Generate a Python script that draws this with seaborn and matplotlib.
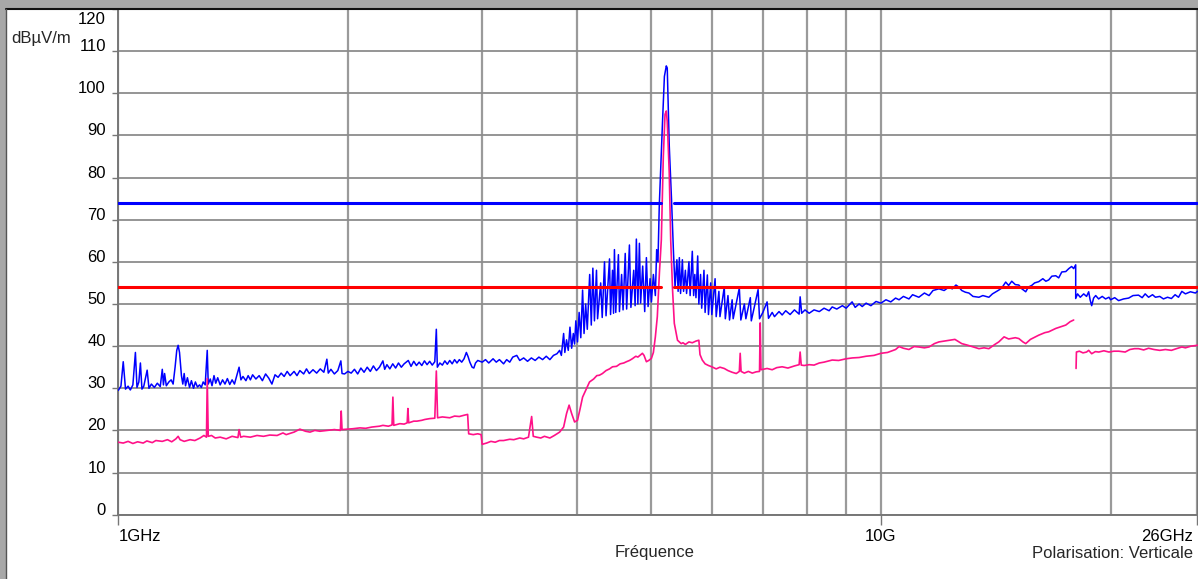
import numpy as np
import matplotlib.pyplot as plt
import seaborn as sns
from matplotlib.lines import Line2D
from matplotlib.patches import Rectangle
from matplotlib.ticker import FixedLocator
import matplotlib.transforms as mtransforms

# ------------------------------------------------------------------ #
#  Data (GHz, dBµV/m)
# ------------------------------------------------------------------ #
# peak detector trace (blue)
peak_1_2 = [
    (1.000, 29.5), (1.008, 30.5), (1.015, 36.3), (1.022, 29.8), (1.030, 30.5),
    (1.037, 29.6), (1.045, 30.8), (1.053, 38.5), (1.058, 30.2), (1.064, 31.5),
    (1.069, 36.0), (1.074, 29.8), (1.080, 30.5), (1.091, 34.3), (1.097, 30.0),
    (1.105, 31.0), (1.115, 30.2), (1.125, 31.2), (1.135, 30.4), (1.142, 34.5),
    (1.146, 30.8), (1.150, 33.5), (1.156, 30.6), (1.165, 31.5), (1.173, 32.0),
    (1.180, 31.0), (1.187, 35.0), (1.193, 39.0), (1.198, 40.2), (1.203, 38.5),
    (1.210, 33.0), (1.215, 31.0), (1.220, 33.5), (1.225, 30.6), (1.232, 32.5),
    (1.240, 30.2), (1.247, 31.8), (1.255, 30.0), (1.262, 31.5), (1.270, 30.3),
    (1.278, 30.8), (1.285, 30.2), (1.292, 31.5), (1.300, 30.8), (1.308, 39.0),
    (1.312, 31.0), (1.320, 32.2), (1.327, 30.6), (1.335, 33.0), (1.342, 31.2),
    (1.350, 32.5), (1.360, 30.8), (1.370, 32.0), (1.380, 31.0), (1.390, 32.3),
    (1.400, 30.9), (1.410, 32.0), (1.420, 31.0), (1.430, 33.0), (1.440, 35.0),
    (1.448, 32.0), (1.457, 32.8), (1.470, 31.8), (1.480, 33.0), (1.490, 32.0),
    (1.500, 33.2), (1.515, 32.2), (1.530, 33.0), (1.545, 31.8), (1.560, 33.4),
    (1.575, 32.4), (1.590, 31.0), (1.605, 33.2), (1.620, 32.6), (1.635, 33.6),
    (1.650, 32.8), (1.665, 34.0), (1.680, 33.0), (1.700, 34.0), (1.715, 33.0),
    (1.730, 34.2), (1.750, 33.4), (1.765, 34.6), (1.780, 33.5), (1.800, 34.4),
    (1.820, 33.6), (1.840, 34.6), (1.860, 33.8), (1.877, 36.9), (1.885, 33.6),
    (1.900, 34.5), (1.920, 33.4), (1.940, 34.2), (1.958, 36.5), (1.965, 33.5),
    (1.980, 33.4),
]
peak_2_4 = [
    (2.00, 34.0), (2.02, 33.6), (2.04, 34.5), (2.06, 33.4), (2.08, 34.8),
    (2.10, 33.8), (2.12, 35.0), (2.14, 34.0), (2.16, 35.3), (2.18, 34.2),
    (2.20, 35.0), (2.223, 36.5), (2.235, 34.5), (2.25, 35.6), (2.27, 34.6),
    (2.29, 35.8), (2.31, 34.8), (2.33, 36.0), (2.35, 35.0), (2.37, 35.8),
    (2.40, 36.6), (2.42, 35.2), (2.44, 36.4), (2.46, 35.4), (2.48, 36.2),
    (2.50, 35.4), (2.52, 36.5), (2.54, 35.6), (2.56, 36.4), (2.58, 35.5),
    (2.60, 36.3), (2.612, 44.0), (2.62, 35.0), (2.64, 36.0), (2.66, 35.5),
    (2.68, 36.5), (2.70, 35.7), (2.72, 36.6), (2.74, 35.8), (2.76, 36.8),
    (2.78, 36.0), (2.80, 36.8), (2.82, 36.2), (2.84, 37.0), (2.86, 38.5),
    (2.875, 37.5), (2.89, 36.2), (2.91, 35.0), (2.925, 34.8), (2.94, 36.0),
    (2.96, 36.6), (3.00, 36.2), (3.03, 36.8), (3.06, 36.0), (3.10, 37.0),
    (3.13, 36.2), (3.16, 36.8), (3.20, 35.8), (3.23, 36.8), (3.26, 36.2),
    (3.29, 37.4), (3.33, 37.8), (3.36, 36.6), (3.40, 37.2), (3.44, 36.4),
    (3.48, 37.2), (3.52, 36.6), (3.56, 37.4), (3.60, 36.8), (3.64, 37.6),
    (3.68, 36.8), (3.72, 37.8), (3.76, 38.2), (3.79, 39.0), (3.81, 37.8),
    (3.836, 43.0), (3.85, 38.5), (3.87, 41.5), (3.89, 39.0), (3.91, 44.5),
    (3.93, 39.5), (3.95, 43.0), (3.965, 40.5), (3.98, 46.0),
]
peak_4_6 = [
    (4.00, 41.0), (4.02, 48.0), (4.04, 42.0), (4.062, 53.3), (4.08, 43.0),
    (4.10, 50.0), (4.12, 44.0), (4.15, 57.0), (4.17, 45.0), (4.19, 58.5),
    (4.21, 46.0), (4.236, 58.0), (4.25, 46.5), (4.29, 55.0), (4.31, 46.8),
    (4.34, 60.0), (4.36, 47.2), (4.406, 60.7), (4.42, 47.5), (4.446, 58.0),
    (4.46, 47.8), (4.472, 62.9), (4.49, 48.0), (4.526, 61.7), (4.54, 48.2),
    (4.57, 57.0), (4.59, 48.6), (4.62, 62.0), (4.64, 48.8), (4.679, 64.0),
    (4.70, 49.2), (4.74, 58.0), (4.76, 49.6), (4.778, 65.4), (4.80, 50.0),
    (4.822, 64.4), (4.84, 50.2), (4.87, 59.0), (4.90, 48.2), (4.925, 61.0),
    (4.95, 49.4), (4.98, 56.0), (5.00, 50.5), (5.03, 57.0), (5.06, 52.0),
    (5.08, 62.9), (5.10, 60.0), (5.12, 73.2), (5.17, 93.0), (5.20, 104.0),
    (5.23, 106.5), (5.245, 106.0), (5.277, 87.5), (5.313, 74.8), (5.345, 62.1),
    (5.37, 54.0), (5.40, 60.5), (5.42, 53.0), (5.44, 61.0), (5.46, 52.5),
    (5.49, 60.5), (5.51, 53.0), (5.54, 58.0), (5.56, 52.5), (5.60, 60.0),
    (5.62, 52.0), (5.657, 62.5), (5.68, 52.0), (5.70, 57.0), (5.72, 51.5),
    (5.75, 61.4), (5.77, 50.0), (5.80, 57.0), (5.82, 49.0), (5.86, 58.0),
    (5.88, 48.0), (5.92, 56.9), (5.94, 47.5), (5.98, 55.0),
]
peak_6_18 = [
    (6.00, 47.5), (6.06, 56.0), (6.08, 47.0), (6.13, 53.0), (6.15, 47.0),
    (6.23, 54.0), (6.25, 46.5), (6.30, 52.0), (6.33, 46.2), (6.38, 51.0),
    (6.40, 46.5), (6.52, 53.8), (6.55, 46.2), (6.62, 50.0), (6.65, 46.5),
    (6.74, 51.5), (6.76, 46.0), (6.90, 53.4), (6.93, 46.5), (7.00, 48.0),
    (7.09, 50.5), (7.12, 46.6), (7.20, 48.0), (7.25, 47.0), (7.35, 48.2),
    (7.42, 47.4), (7.50, 48.4), (7.60, 47.5), (7.70, 48.6), (7.81, 47.6),
    (7.834, 51.7), (7.87, 47.8), (7.95, 48.6), (8.05, 47.8), (8.17, 48.6),
    (8.30, 48.2), (8.42, 49.0), (8.55, 48.4), (8.63, 49.3), (8.75, 48.8),
    (8.90, 49.6), (9.00, 49.0), (9.165, 50.5), (9.25, 49.2), (9.36, 50.0),
    (9.45, 49.4), (9.56, 50.2), (9.70, 49.6), (9.85, 50.6), (10.0, 50.2),
    (10.15, 51.0), (10.3, 50.5), (10.45, 51.4), (10.56, 51.0), (10.7, 51.8),
    (10.88, 51.2), (11.0, 52.2), (11.21, 51.6), (11.4, 52.6), (11.56, 52.0),
    (11.7, 53.2), (11.91, 53.6), (12.1, 53.2), (12.27, 54.0), (12.4, 53.6),
    (12.54, 54.5), (12.65, 54.0), (12.76, 53.2), (12.9, 52.8), (13.04, 52.6),
    (13.2, 51.8), (13.44, 51.6), (13.6, 52.0), (13.85, 51.6), (14.0, 52.4),
    (14.27, 53.3), (14.4, 53.8), (14.57, 55.2), (14.7, 54.4), (14.84, 55.4),
    (15.0, 54.6), (15.16, 54.5), (15.3, 53.6), (15.48, 52.9), (15.6, 54.0),
    (15.76, 54.4), (15.9, 55.0), (16.1, 55.3), (16.3, 56.0), (16.45, 55.4),
    (16.59, 55.7), (16.75, 56.6), (16.95, 56.7), (17.1, 56.2), (17.26, 57.6),
    (17.47, 57.7), (17.63, 58.4), (17.78, 58.9), (17.89, 58.4), (18.0, 59.3),
]
peak_18_26 = [
    (18.0, 51.3), (18.1, 52.4), (18.25, 51.6), (18.44, 52.4), (18.6, 51.8),
    (18.72, 52.9), (18.8, 51.0), (18.89, 49.6), (19.0, 51.4), (19.12, 52.0),
    (19.29, 51.2), (19.5, 51.8), (19.7, 51.2), (19.9, 51.6), (20.0, 51.0),
    (20.25, 51.5), (20.49, 50.8), (20.8, 51.2), (21.12, 51.4), (21.4, 52.0),
    (21.76, 52.1), (22.0, 51.5), (22.2, 52.4), (22.43, 51.6), (22.7, 52.2),
    (22.9, 51.6), (23.2, 51.8), (23.46, 51.2), (23.75, 51.6), (24.03, 51.3),
    (24.3, 52.2), (24.55, 51.6), (24.8, 53.0), (25.07, 52.4), (25.45, 52.9),
    (25.84, 52.6), (26.0, 53.0),
]

# average detector trace (pink)
avg_1_3 = [
    (1.000, 17.2), (1.015, 17.0), (1.030, 17.4), (1.045, 16.9), (1.060, 17.3),
    (1.078, 17.0), (1.090, 17.5), (1.108, 17.1), (1.120, 17.6), (1.142, 17.4),
    (1.160, 17.8), (1.175, 17.3), (1.190, 18.0), (1.198, 18.6), (1.205, 17.8),
    (1.220, 17.4), (1.242, 17.8), (1.260, 17.6), (1.280, 18.2), (1.295, 18.8),
    (1.305, 18.4), (1.308, 32.3), (1.312, 18.6), (1.325, 18.8), (1.340, 18.2),
    (1.360, 18.4), (1.385, 18.0), (1.410, 18.6), (1.435, 18.3), (1.440, 20.2),
    (1.447, 18.4), (1.460, 18.6), (1.490, 18.4), (1.520, 18.8), (1.550, 18.6),
    (1.580, 18.9), (1.615, 18.8), (1.644, 19.4), (1.660, 19.0), (1.700, 19.6),
    (1.730, 20.3), (1.760, 19.8), (1.784, 19.6), (1.810, 20.0), (1.838, 19.8),
    (1.877, 20.0), (1.920, 20.2), (1.955, 20.0), (1.960, 24.6), (1.965, 20.2),
    (2.000, 20.3), (2.030, 20.4), (2.074, 20.6), (2.110, 20.5), (2.150, 20.8),
    (2.200, 21.0), (2.223, 21.2), (2.260, 21.0), (2.285, 21.3), (2.291, 27.9),
    (2.297, 21.2), (2.339, 21.6), (2.370, 21.5), (2.392, 21.8), (2.397, 25.2),
    (2.403, 21.8), (2.440, 22.2), (2.463, 22.2), (2.500, 22.4), (2.523, 22.6),
    (2.561, 22.8), (2.600, 22.9), (2.612, 34.1), (2.622, 23.0), (2.660, 23.2),
    (2.720, 23.0), (2.760, 23.4), (2.800, 23.3), (2.840, 23.6), (2.871, 23.8),
    (2.880, 19.2), (2.920, 19.0), (2.960, 19.2), (2.990, 19.0),
]
avg_3_18 = [
    (3.00, 16.7), (3.04, 17.0), (3.08, 17.4), (3.12, 17.2), (3.16, 17.6),
    (3.20, 17.6), (3.26, 17.9), (3.30, 17.8), (3.36, 18.2), (3.40, 18.0),
    (3.45, 18.4), (3.483, 23.3), (3.50, 18.6), (3.536, 18.4), (3.58, 18.2),
    (3.62, 18.6), (3.68, 18.2), (3.73, 18.8), (3.79, 19.6), (3.836, 20.8),
    (3.87, 24.0), (3.90, 26.0), (3.93, 24.0), (3.965, 22.0), (4.00, 22.4),
    (4.03, 25.0), (4.062, 27.9), (4.10, 29.5), (4.148, 31.5), (4.20, 32.2),
    (4.24, 33.0), (4.274, 33.1), (4.313, 33.5), (4.36, 34.2), (4.406, 34.6),
    (4.446, 35.1), (4.50, 35.2), (4.55, 35.8), (4.60, 36.0), (4.637, 36.3),
    (4.68, 36.6), (4.72, 37.0), (4.77, 37.6), (4.80, 37.4), (4.866, 38.3),
    (4.89, 37.8), (4.925, 36.3), (4.96, 36.6), (5.00, 37.1), (5.03, 38.5),
    (5.06, 42.2), (5.09, 47.0), (5.122, 57.3), (5.152, 65.2), (5.183, 85.0),
    (5.21, 95.0), (5.23, 95.8), (5.245, 93.3), (5.277, 81.0), (5.30, 65.2),
    (5.33, 53.3), (5.358, 45.4), (5.41, 41.4), (5.47, 40.6), (5.50, 40.8),
    (5.54, 40.4), (5.60, 41.0), (5.657, 40.8), (5.72, 41.2), (5.77, 41.4),
    (5.79, 38.0), (5.83, 36.7), (5.88, 35.8), (5.94, 35.4), (6.00, 35.1),
    (6.08, 34.6), (6.15, 35.0), (6.23, 34.7), (6.30, 34.2), (6.38, 33.8),
    (6.46, 33.5), (6.52, 34.0), (6.537, 38.3), (6.555, 34.0), (6.62, 33.6),
    (6.70, 34.0), (6.78, 33.6), (6.86, 33.9), (6.93, 34.0), (6.944, 45.5),
    (6.96, 34.4), (7.09, 34.7), (7.20, 34.4), (7.30, 34.9), (7.42, 35.1),
    (7.55, 34.8), (7.70, 35.3), (7.81, 35.6), (7.834, 38.6), (7.86, 35.5),
    (7.93, 35.4), (8.05, 35.6), (8.17, 35.5), (8.30, 36.0), (8.42, 36.2),
    (8.63, 36.7), (8.80, 36.6), (9.00, 37.0), (9.17, 37.2), (9.36, 37.3),
    (9.56, 37.6), (9.79, 37.8), (10.0, 38.3), (10.2, 38.5), (10.45, 39.2),
    (10.56, 39.9), (10.7, 39.5), (10.88, 39.2), (11.05, 39.9), (11.21, 39.8),
    (11.4, 39.6), (11.56, 39.8), (11.75, 40.6), (11.91, 41.0), (12.1, 41.2),
    (12.27, 41.4), (12.5, 41.6), (12.76, 40.6), (13.0, 40.2), (13.44, 39.4),
    (13.65, 39.6), (13.85, 39.4), (14.1, 40.4), (14.27, 41.0), (14.5, 42.2),
    (14.7, 41.7), (15.0, 42.0), (15.16, 41.8), (15.35, 41.0), (15.48, 40.6),
    (15.7, 41.6), (16.1, 42.6), (16.4, 43.2), (16.59, 43.4), (16.95, 44.2),
    (17.2, 44.6), (17.47, 45.0), (17.7, 45.8), (17.89, 46.2),
]
avg_18_26 = [
    (18.02, 34.7), (18.04, 38.6), (18.2, 38.8), (18.4, 38.4), (18.6, 38.6),
    (18.72, 39.0), (18.89, 38.2), (19.1, 38.7), (19.3, 38.6), (19.6, 38.9),
    (19.9, 38.6), (20.2, 38.8), (20.5, 38.8), (20.9, 38.6), (21.2, 39.2),
    (21.5, 39.4), (21.76, 39.4), (22.1, 39.1), (22.43, 39.5), (22.8, 39.2),
    (23.2, 39.0), (23.6, 39.2), (24.03, 39.0), (24.4, 39.4), (24.8, 39.8),
    (25.07, 39.6), (25.5, 40.0), (26.0, 40.2),
]

# limit lines (dBµV/m) and the span where they are interrupted (GHz)
limit_peak = 74
limit_avg = 54
limit_gap = (5.15, 5.35)

y_ticks = list(range(0, 121, 10))
x_ticks = [1, 10, 26]
x_tick_labels = ['1GHz', '10G', '26GHz']
x_grid = [2, 3, 4, 5, 6, 7, 8, 9, 20]

# ------------------------------------------------------------------ #
#  Figure
# ------------------------------------------------------------------ #
sns.set_style('white')
plt.rcParams['font.family'] = ['Liberation Sans', 'DejaVu Sans']
FS = 12

W, H = 1198, 579
fig = plt.figure(figsize=(W / 100, H / 100), dpi=100)
fig.patch.set_facecolor('#a8a8a8')
# white panel with dark border top / left
fig.add_artist(Rectangle((6 / W, 0), 1, (H - 9) / H, transform=fig.transFigure,
                         facecolor='white', edgecolor='none', zorder=-10))
fig.add_artist(Line2D([6 / W, 1], [(H - 8.5) / H] * 2, transform=fig.transFigure,
                      color='#111111', lw=1.5))
fig.add_artist(Line2D([6 / W] * 2, [0, (H - 8.5) / H], transform=fig.transFigure,
                      color='#555555', lw=1.0))

ax_left, ax_right = 118.3, 1197.5
ax_top, ax_bottom = 9.0, 514.7
ax = fig.add_axes([ax_left / W, (H - ax_bottom) / H,
                   (ax_right - ax_left) / W, (ax_bottom - ax_top) / H])

ax.set_xscale('log')
ax.set_xlim(1, 26)
ax.set_ylim(0, 120)


def trace(points, color, lw):
    f = [p[0] for p in points]
    v = [p[1] for p in points]
    sns.lineplot(x=f, y=v, ax=ax, color=color, lw=lw, sort=False,
                 estimator=None, legend=False, zorder=3)


trace(peak_1_2 + peak_2_4 + peak_4_6 + peak_6_18 + peak_18_26, '#0000ff', 1.1)
trace(avg_1_3 + avg_3_18, '#ff1188', 1.2)
trace(avg_18_26, '#ff1188', 1.2)

for lvl, col in ((limit_peak, '#0000ff'), (limit_avg, '#ff0000')):
    for a, b in ((1, limit_gap[0]), (limit_gap[1], 26)):
        sns.lineplot(x=[a, b], y=[lvl, lvl], ax=ax, color=col, lw=2.2,
                     legend=False, zorder=4)

# axes / grid
ax.set_yticks(y_ticks)
ax.set_yticklabels([str(t) for t in y_ticks])
ax.xaxis.set_major_locator(FixedLocator(x_ticks))
ax.set_xticklabels(x_tick_labels)
ax.xaxis.set_minor_locator(FixedLocator(x_grid))
ax.grid(True, which='major', axis='y', color='#8c8c8c', lw=1.3, zorder=0)
ax.grid(True, which='both', axis='x', color='#9a9a9a', lw=1.6, zorder=0)
ax.tick_params(axis='x', which='minor', length=0, bottom=False)
ax.tick_params(axis='x', which='major', bottom=True, length=7, width=1,
               color='#777777', pad=3, labelsize=FS, labelcolor='black')
ax.tick_params(axis='y', left=True, length=4, width=1, color='#777777', pad=5,
               labelsize=FS, labelcolor='black')
ax.set_axisbelow(True)

for side in ('left', 'bottom', 'right'):
    ax.spines[side].set_color('#777777')
    ax.spines[side].set_linewidth(1.4)
ax.spines['top'].set_visible(False)

# tick label placement like the instrument software
offset = mtransforms.ScaledTranslation(0, -15 / 100, fig.dpi_scale_trans)
for lab in ax.get_yticklabels():
    lab.set_va('baseline')
    if lab.get_text() == '120':
        lab.set_transform(lab.get_transform() + offset)
xlabels = ax.get_xticklabels()
xlabels[0].set_ha('left')
xlabels[1].set_ha('center')
xlabels[2].set_ha('right')
xlabels[2].set_transform(xlabels[2].get_transform() +
                         mtransforms.ScaledTranslation(-4 / 100, 0, fig.dpi_scale_trans))

ax.set_xlabel('')
ax.set_ylabel('')
fig.text(11 / W, (H - 38) / H, 'dBµV/m', fontsize=FS, va='center', ha='left')
fig.text(655 / W, (H - 552) / H, 'Fréquence', fontsize=FS, va='center', ha='center')
fig.text(1193 / W, (H - 553) / H, 'Polarisation: Verticale', fontsize=FS,
         va='center', ha='right')

fig.savefig('out.png', dpi=100, facecolor=fig.get_facecolor())
